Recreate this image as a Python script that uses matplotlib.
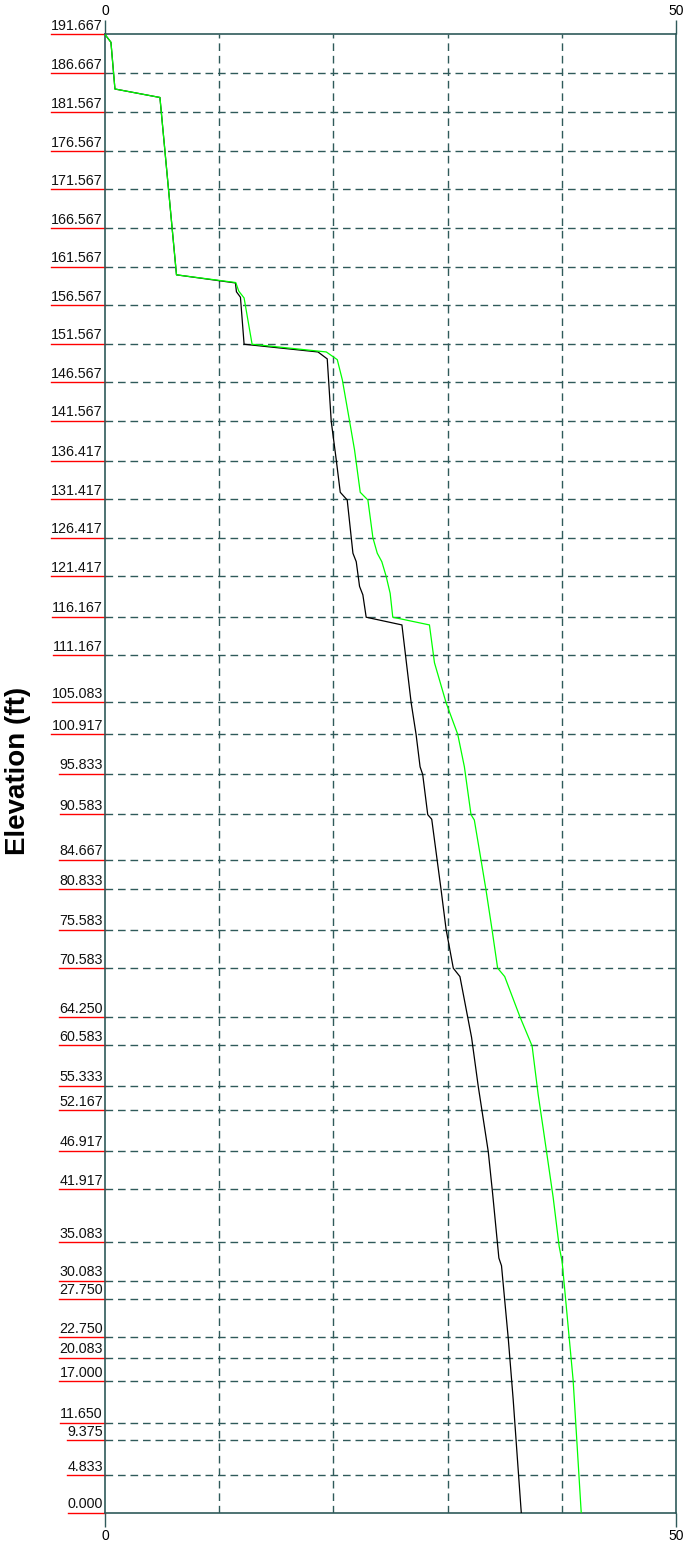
import matplotlib
matplotlib.use("Agg")
import matplotlib.pyplot as plt
from matplotlib.lines import Line2D
from matplotlib.transforms import blended_transform_factory

plt.rcParams['font.family'] = ['Liberation Sans', 'DejaVu Sans']

# Elevations of the layer boundaries (labelled ticks)
elev_ticks = [191.667, 186.667, 181.567, 176.567, 171.567, 166.567, 161.567,
              156.567, 151.567, 146.567, 141.567, 136.417, 131.417, 126.417,
              121.417, 116.167, 111.167, 105.083, 100.917, 95.833, 90.583,
              84.667, 80.833, 75.583, 70.583, 64.250, 60.583, 55.333, 52.167,
              46.917, 41.917, 35.083, 30.083, 27.750, 22.750, 20.083, 17.000,
              11.650, 9.375, 4.833, 0.000]

# Black profile
black_x = [0.0, 0.52, 0.87, 4.81, 6.26, 11.42, 11.51, 11.86, 12.18, 18.65,
           19.46, 19.81, 20.25, 20.60, 21.21, 21.71, 22.00, 22.29, 22.58,
           22.87, 26.00, 26.81, 27.24, 27.59, 27.82, 28.26, 28.61, 29.43,
           29.87, 30.50, 31.08, 32.10, 32.68, 33.56, 33.94, 34.49, 34.72,
           35.31, 35.74, 36.12, 36.45]
black_y = [191.667, 190.66, 184.6, 183.5, 160.5, 159.45, 158.3, 157.6, 151.5,
           150.5, 149.6, 141.5, 136.5, 132.3, 131.3, 124.4, 123.3, 120.1,
           119.0, 116.1, 115.1, 105.0, 100.9, 96.7, 95.7, 90.5, 89.9, 80.75,
           75.6, 70.58, 69.5, 61.6, 55.3, 46.8, 41.4, 33.0, 32.0, 22.6, 14.7,
           6.8, 0.0]

# Green profile
green_x = [0.0, 0.52, 0.87, 4.81, 6.26, 11.45, 11.71, 12.18, 12.88, 19.38,
           20.34, 20.78, 21.42, 21.85, 22.35, 23.02, 23.46, 23.84, 24.24,
           24.62, 24.97, 25.20, 28.41, 28.85, 29.87, 30.89, 31.47, 32.05,
           32.34, 32.93, 33.36, 33.89, 34.38, 35.00, 36.33, 37.40, 37.93,
           38.37, 39.24, 39.77, 40.03, 40.40, 40.99, 41.70]
green_y = [191.667, 190.66, 184.6, 183.5, 160.5, 159.5, 158.4, 157.5, 151.5,
           150.5, 149.5, 146.9, 141.5, 137.8, 132.3, 131.3, 126.4, 124.4,
           123.3, 121.4, 119.2, 116.1, 115.1, 110.2, 105.0, 100.9, 96.7, 90.5,
           89.8, 84.6, 80.75, 75.6, 70.6, 69.5, 64.3, 60.5, 54.2, 49.8, 40.9,
           34.5, 32.5, 26.6, 17.2, 0.0]

x_ticks = [0, 50]
x_grid = [10, 20, 30, 40]
y_label = "Elevation (ft)"

frame = '#2F5A5A'
grid_c = '#2F5A5A'

fig = plt.figure(figsize=(6.88, 15.47), dpi=100)
ax = fig.add_axes([105 / 688, 1 - 1512.5 / 1547, 571 / 688, 1478 / 1547])
ax.set_xlim(0, 50)
ax.set_ylim(0, 191.667)

for s in ax.spines.values():
    s.set_color(frame)
    s.set_linewidth(1.2)

# dashed grid
for g in x_grid:
    ax.axvline(g, color=grid_c, lw=1.0, dashes=(5.5, 3.5), zorder=1)
for e in elev_ticks:
    if 0 < e < 191.667:
        ax.axhline(e, color=grid_c, lw=1.0, dashes=(5.5, 3.5), zorder=1)

# profiles
ax.plot(black_x, black_y, color='black', lw=0.9, zorder=3)
ax.plot(green_x, green_y, color='#00FF00', lw=0.9, zorder=4)

# x axis: top and bottom ticks
ax.set_xticks(x_ticks)
ax.set_xticklabels([str(t) for t in x_ticks])
ax.tick_params(axis='x', which='both', top=True, labeltop=True, bottom=True,
               labelbottom=True, length=10, width=1.0, color=frame,
               labelsize=10, pad=2)
ax.set_yticks([])

# y labels with red underline
trans = blended_transform_factory(ax.transAxes, ax.transData)
texts = []
for e in elev_ticks:
    t = ax.annotate(f"{e:.3f}", xy=(0, e), xycoords=trans,
                    xytext=(-1.5, 1.0), textcoords='offset points',
                    ha='right', va='bottom', fontsize=10.3, color='#111111',
                    annotation_clip=False)
    texts.append((t, e))

fig.text(18 / 688, 1 - 771 / 1547, y_label, rotation=90, ha='center',
         va='center', fontsize=20, fontweight='bold')

fig.canvas.draw()
r = fig.canvas.get_renderer()
inv = ax.transAxes.inverted()
for t, e in texts:
    bb = t.get_window_extent(r)
    x0 = inv.transform((bb.x0, bb.y0))[0]
    ax.add_line(Line2D([x0, 0], [e, e], transform=trans, color='#FF0000',
                       lw=1.0, clip_on=False, zorder=2))

fig.savefig('out.png', dpi=100)
